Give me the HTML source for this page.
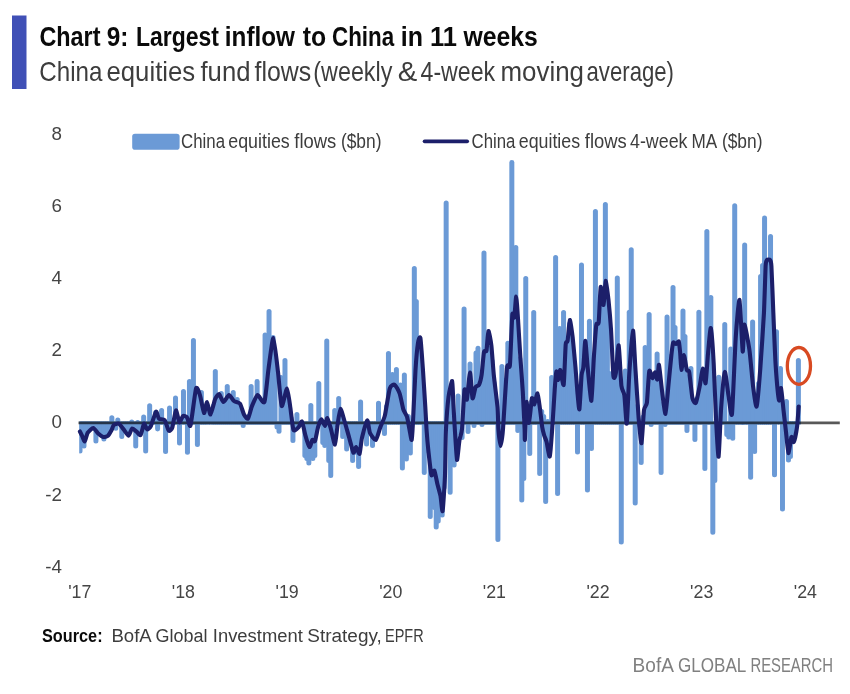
<!DOCTYPE html>
<html><head><meta charset="utf-8"><title>Chart 9</title>
<style>
html,body{margin:0;padding:0;background:#fff;}
body{width:850px;height:694px;overflow:hidden;font-family:"Liberation Sans",sans-serif;}
svg{display:block;will-change:transform;}
text{font-family:"Liberation Sans",sans-serif;}
</style></head><body>
<svg width="850" height="694" viewBox="0 0 850 694">
<rect width="850" height="694" fill="#ffffff"/>
<rect x="12" y="15.5" width="14.5" height="73.5" fill="#4050b6"/>
<text x="39.4" y="45.7" font-size="27.2" font-weight="bold" fill="#0a0a0a" textLength="61.1" lengthAdjust="spacingAndGlyphs">Chart</text>
<text x="106.7" y="45.7" font-size="27.2" font-weight="bold" fill="#0a0a0a" textLength="21.7" lengthAdjust="spacingAndGlyphs">9:</text>
<text x="136.0" y="45.7" font-size="27.2" font-weight="bold" fill="#0a0a0a" textLength="83.0" lengthAdjust="spacingAndGlyphs">Largest</text>
<text x="224.8" y="45.7" font-size="27.2" font-weight="bold" fill="#0a0a0a" textLength="70.2" lengthAdjust="spacingAndGlyphs">inflow</text>
<text x="302.8" y="45.7" font-size="27.2" font-weight="bold" fill="#0a0a0a" textLength="23.4" lengthAdjust="spacingAndGlyphs">to</text>
<text x="332.0" y="45.7" font-size="27.2" font-weight="bold" fill="#0a0a0a" textLength="62.2" lengthAdjust="spacingAndGlyphs">China</text>
<text x="400.8" y="45.7" font-size="27.2" font-weight="bold" fill="#0a0a0a" textLength="22.2" lengthAdjust="spacingAndGlyphs">in</text>
<text x="430.0" y="45.7" font-size="27.2" font-weight="bold" fill="#0a0a0a" textLength="27.0" lengthAdjust="spacingAndGlyphs">11</text>
<text x="463.6" y="45.7" font-size="27.2" font-weight="bold" fill="#0a0a0a" textLength="74.2" lengthAdjust="spacingAndGlyphs">weeks</text>
<text x="39.3" y="80.7" font-size="28.3" fill="#3d3d3d" textLength="63.1" lengthAdjust="spacingAndGlyphs">China</text>
<text x="106.5" y="80.7" font-size="28.3" fill="#3d3d3d" textLength="88.7" lengthAdjust="spacingAndGlyphs">equities</text>
<text x="200.5" y="80.7" font-size="28.3" fill="#3d3d3d" textLength="49.9" lengthAdjust="spacingAndGlyphs">fund</text>
<text x="254.5" y="80.7" font-size="28.3" fill="#3d3d3d" textLength="56.7" lengthAdjust="spacingAndGlyphs">flows</text>
<text x="313.3" y="80.7" font-size="28.3" fill="#3d3d3d" textLength="79.1" lengthAdjust="spacingAndGlyphs">(weekly</text>
<text x="397.7" y="80.7" font-size="28.3" fill="#3d3d3d" textLength="19.5" lengthAdjust="spacingAndGlyphs">&amp;</text>
<text x="420.5" y="80.7" font-size="28.3" fill="#3d3d3d" textLength="74.7" lengthAdjust="spacingAndGlyphs">4-week</text>
<text x="500.5" y="80.7" font-size="28.3" fill="#3d3d3d" textLength="83.5" lengthAdjust="spacingAndGlyphs">moving</text>
<text x="586.5" y="80.7" font-size="28.3" fill="#3d3d3d" textLength="87.5" lengthAdjust="spacingAndGlyphs">average)</text>
<g font-size="18.8" fill="#454545">
<text x="62.0" y="139.5" text-anchor="end">8</text>
<text x="62.0" y="211.8" text-anchor="end">6</text>
<text x="62.0" y="283.9" text-anchor="end">4</text>
<text x="62.0" y="356.1" text-anchor="end">2</text>
<text x="62.0" y="428.3" text-anchor="end">0</text>
<text x="62.0" y="500.5" text-anchor="end">-2</text>
<text x="62.0" y="572.6" text-anchor="end">-4</text>
<text x="68.2" y="598.3" textLength="23.2" lengthAdjust="spacingAndGlyphs">'17</text>
<text x="171.8" y="598.3" textLength="23.2" lengthAdjust="spacingAndGlyphs">'18</text>
<text x="275.5" y="598.3" textLength="23.2" lengthAdjust="spacingAndGlyphs">'19</text>
<text x="379.2" y="598.3" textLength="23.2" lengthAdjust="spacingAndGlyphs">'20</text>
<text x="482.8" y="598.3" textLength="23.2" lengthAdjust="spacingAndGlyphs">'21</text>
<text x="586.4" y="598.3" textLength="23.2" lengthAdjust="spacingAndGlyphs">'22</text>
<text x="690.1" y="598.3" textLength="23.2" lengthAdjust="spacingAndGlyphs">'23</text>
<text x="793.8" y="598.3" textLength="23.2" lengthAdjust="spacingAndGlyphs">'24</text>
</g>
<rect x="132.2" y="133.7" width="47.4" height="16" rx="2.8" fill="#6b9ad6"/>
<text x="181.0" y="147.5" font-size="19.5" fill="#3d3d3d" textLength="44.0" lengthAdjust="spacingAndGlyphs">China</text>
<text x="228.3" y="147.5" font-size="19.5" fill="#3d3d3d" textLength="61.4" lengthAdjust="spacingAndGlyphs">equities</text>
<text x="294.3" y="147.5" font-size="19.5" fill="#3d3d3d" textLength="42.0" lengthAdjust="spacingAndGlyphs">flows</text>
<text x="340.9" y="147.5" font-size="19.5" fill="#3d3d3d" textLength="40.6" lengthAdjust="spacingAndGlyphs">($bn)</text>
<line x1="424.6" y1="141.3" x2="467.2" y2="141.3" stroke="#1c1f6a" stroke-width="3.7" stroke-linecap="round"/>
<text x="471.5" y="147.5" font-size="19.5" fill="#3d3d3d" textLength="43.9" lengthAdjust="spacingAndGlyphs">China</text>
<text x="518.8" y="147.5" font-size="19.5" fill="#3d3d3d" textLength="61.3" lengthAdjust="spacingAndGlyphs">equities</text>
<text x="584.8" y="147.5" font-size="19.5" fill="#3d3d3d" textLength="41.9" lengthAdjust="spacingAndGlyphs">flows</text>
<text x="630.0" y="147.5" font-size="19.5" fill="#3d3d3d" textLength="57.5" lengthAdjust="spacingAndGlyphs">4-week</text>
<text x="691.6" y="147.5" font-size="19.5" fill="#3d3d3d" textLength="25.7" lengthAdjust="spacingAndGlyphs">MA</text>
<text x="721.9" y="147.5" font-size="19.5" fill="#3d3d3d" textLength="40.6" lengthAdjust="spacingAndGlyphs">($bn)</text>
<clipPath id="pc"><rect x="79.2" y="120" width="770" height="460"/></clipPath>
<g fill="#6b9ad6" clip-path="url(#pc)">
<path d="M77.50,421.4V450.9a2.5,2.5 0 0 0 5.0,0V421.4z"/>
<path d="M79.49,421.4V434.2a2.5,2.5 0 0 0 5.0,0V421.4z"/>
<path d="M81.48,421.4V445.9a2.5,2.5 0 0 0 5.0,0V421.4z"/>
<path d="M83.47,421.4V433.8a2.5,2.5 0 0 0 5.0,0V421.4z"/>
<path d="M85.46,421.4V429.7a2.5,2.5 0 0 0 5.0,0V421.4z"/>
<path d="M87.45,421.4V427.9a2.5,2.5 0 0 0 5.0,0V421.4z"/>
<path d="M89.44,421.4V426.2a2.5,2.5 0 0 0 5.0,0V421.4z"/>
<path d="M91.43,421.4V426.8a2.5,2.5 0 0 0 5.0,0V421.4z"/>
<path d="M93.42,421.4V441.0a2.5,2.5 0 0 0 5.0,0V421.4z"/>
<path d="M95.41,421.4V431.2a2.5,2.5 0 0 0 5.0,0V421.4z"/>
<path d="M97.40,421.4V432.6a2.5,2.5 0 0 0 5.0,0V421.4z"/>
<path d="M99.39,421.4V433.9a2.5,2.5 0 0 0 5.0,0V421.4z"/>
<path d="M101.38,421.4V438.9a2.5,2.5 0 0 0 5.0,0V421.4z"/>
<path d="M103.37,421.4V433.6a2.5,2.5 0 0 0 5.0,0V421.4z"/>
<path d="M105.36,421.4V432.6a2.5,2.5 0 0 0 5.0,0V421.4z"/>
<path d="M107.35,421.4V429.5a2.5,2.5 0 0 0 5.0,0V421.4z"/>
<path d="M109.34,424.5V417.7a2.5,2.5 0 0 1 5.0,0V424.5z"/>
<path d="M111.33,421.4V422.4a2.5,2.5 0 0 0 5.0,0V421.4z"/>
<path d="M113.32,421.4V428.3a2.5,2.5 0 0 0 5.0,0V421.4z"/>
<path d="M115.31,424.5V419.9a2.5,2.5 0 0 1 5.0,0V424.5z"/>
<path d="M117.30,421.4V423.1a2.5,2.5 0 0 0 5.0,0V421.4z"/>
<path d="M119.29,421.4V436.5a2.5,2.5 0 0 0 5.0,0V421.4z"/>
<path d="M121.28,421.4V427.8a2.5,2.5 0 0 0 5.0,0V421.4z"/>
<path d="M123.27,421.4V430.3a2.5,2.5 0 0 0 5.0,0V421.4z"/>
<path d="M125.26,421.4V432.8a2.5,2.5 0 0 0 5.0,0V421.4z"/>
<path d="M127.25,421.4V429.8a2.5,2.5 0 0 0 5.0,0V421.4z"/>
<path d="M129.24,424.5V422.0a2.5,2.5 0 0 1 5.0,0V424.5z"/>
<path d="M131.23,421.4V427.6a2.5,2.5 0 0 0 5.0,0V421.4z"/>
<path d="M133.22,421.4V445.9a2.5,2.5 0 0 0 5.0,0V421.4z"/>
<path d="M135.21,424.5V422.5a2.5,2.5 0 0 1 5.0,0V424.5z"/>
<path d="M137.20,421.4V432.2a2.5,2.5 0 0 0 5.0,0V421.4z"/>
<path d="M139.19,421.4V427.2a2.5,2.5 0 0 0 5.0,0V421.4z"/>
<path d="M141.18,424.5V417.0a2.5,2.5 0 0 1 5.0,0V424.5z"/>
<path d="M143.17,421.4V450.9a2.5,2.5 0 0 0 5.0,0V421.4z"/>
<path d="M145.16,421.4V425.9a2.5,2.5 0 0 0 5.0,0V421.4z"/>
<path d="M147.15,424.5V405.7a2.5,2.5 0 0 1 5.0,0V424.5z"/>
<path d="M151.13,424.5V419.5a2.5,2.5 0 0 1 5.0,0V424.5z"/>
<path d="M153.12,424.5V412.5a2.5,2.5 0 0 1 5.0,0V424.5z"/>
<path d="M155.11,421.4V429.0a2.5,2.5 0 0 0 5.0,0V421.4z"/>
<path d="M157.10,424.5V421.5a2.5,2.5 0 0 1 5.0,0V424.5z"/>
<path d="M159.09,424.5V410.5a2.5,2.5 0 0 1 5.0,0V424.5z"/>
<path d="M161.08,424.5V422.4a2.5,2.5 0 0 1 5.0,0V424.5z"/>
<path d="M163.07,421.4V451.5a2.5,2.5 0 0 0 5.0,0V421.4z"/>
<path d="M165.06,421.4V426.4a2.5,2.5 0 0 0 5.0,0V421.4z"/>
<path d="M167.05,424.5V407.9a2.5,2.5 0 0 1 5.0,0V424.5z"/>
<path d="M169.04,421.4V425.1a2.5,2.5 0 0 0 5.0,0V421.4z"/>
<path d="M171.03,424.5V421.8a2.5,2.5 0 0 1 5.0,0V424.5z"/>
<path d="M173.02,424.5V398.0a2.5,2.5 0 0 1 5.0,0V424.5z"/>
<path d="M175.01,424.5V420.0a2.5,2.5 0 0 1 5.0,0V424.5z"/>
<path d="M177.00,421.4V443.1a2.5,2.5 0 0 0 5.0,0V421.4z"/>
<path d="M178.99,424.5V420.3a2.5,2.5 0 0 1 5.0,0V424.5z"/>
<path d="M180.98,424.5V391.5a2.5,2.5 0 0 1 5.0,0V424.5z"/>
<path d="M182.97,424.5V419.5a2.5,2.5 0 0 1 5.0,0V424.5z"/>
<path d="M184.96,421.4V452.3a2.5,2.5 0 0 0 5.0,0V421.4z"/>
<path d="M186.95,424.5V381.5a2.5,2.5 0 0 1 5.0,0V424.5z"/>
<path d="M188.94,424.5V418.3a2.5,2.5 0 0 1 5.0,0V424.5z"/>
<path d="M190.93,424.5V340.5a2.5,2.5 0 0 1 5.0,0V424.5z"/>
<path d="M192.92,424.5V391.5a2.5,2.5 0 0 1 5.0,0V424.5z"/>
<path d="M194.91,421.4V444.5a2.5,2.5 0 0 0 5.0,0V421.4z"/>
<path d="M196.90,424.5V397.7a2.5,2.5 0 0 1 5.0,0V424.5z"/>
<path d="M198.89,424.5V392.5a2.5,2.5 0 0 1 5.0,0V424.5z"/>
<path d="M200.88,424.5V415.0a2.5,2.5 0 0 1 5.0,0V424.5z"/>
<path d="M202.87,424.5V408.6a2.5,2.5 0 0 1 5.0,0V424.5z"/>
<path d="M204.86,424.5V407.6a2.5,2.5 0 0 1 5.0,0V424.5z"/>
<path d="M206.85,421.4V422.0a2.5,2.5 0 0 0 5.0,0V421.4z"/>
<path d="M208.84,424.5V412.5a2.5,2.5 0 0 1 5.0,0V424.5z"/>
<path d="M210.83,424.5V405.9a2.5,2.5 0 0 1 5.0,0V424.5z"/>
<path d="M212.82,424.5V371.5a2.5,2.5 0 0 1 5.0,0V424.5z"/>
<path d="M214.81,424.5V398.1a2.5,2.5 0 0 1 5.0,0V424.5z"/>
<path d="M216.80,424.5V398.0a2.5,2.5 0 0 1 5.0,0V424.5z"/>
<path d="M218.79,424.5V393.5a2.5,2.5 0 0 1 5.0,0V424.5z"/>
<path d="M220.78,424.5V404.0a2.5,2.5 0 0 1 5.0,0V424.5z"/>
<path d="M222.77,424.5V401.5a2.5,2.5 0 0 1 5.0,0V424.5z"/>
<path d="M224.76,424.5V386.5a2.5,2.5 0 0 1 5.0,0V424.5z"/>
<path d="M226.75,424.5V398.4a2.5,2.5 0 0 1 5.0,0V424.5z"/>
<path d="M228.74,424.5V400.8a2.5,2.5 0 0 1 5.0,0V424.5z"/>
<path d="M230.73,424.5V392.5a2.5,2.5 0 0 1 5.0,0V424.5z"/>
<path d="M232.72,424.5V404.2a2.5,2.5 0 0 1 5.0,0V424.5z"/>
<path d="M234.71,424.5V399.5a2.5,2.5 0 0 1 5.0,0V424.5z"/>
<path d="M236.70,424.5V406.0a2.5,2.5 0 0 1 5.0,0V424.5z"/>
<path d="M238.69,424.5V410.7a2.5,2.5 0 0 1 5.0,0V424.5z"/>
<path d="M240.68,421.4V425.5a2.5,2.5 0 0 0 5.0,0V421.4z"/>
<path d="M242.67,424.5V418.7a2.5,2.5 0 0 1 5.0,0V424.5z"/>
<path d="M244.66,424.5V420.8a2.5,2.5 0 0 1 5.0,0V424.5z"/>
<path d="M246.65,424.5V415.9a2.5,2.5 0 0 1 5.0,0V424.5z"/>
<path d="M248.64,424.5V386.5a2.5,2.5 0 0 1 5.0,0V424.5z"/>
<path d="M250.63,424.5V405.3a2.5,2.5 0 0 1 5.0,0V424.5z"/>
<path d="M252.62,424.5V401.4a2.5,2.5 0 0 1 5.0,0V424.5z"/>
<path d="M254.61,424.5V381.5a2.5,2.5 0 0 1 5.0,0V424.5z"/>
<path d="M256.60,424.5V399.6a2.5,2.5 0 0 1 5.0,0V424.5z"/>
<path d="M258.59,424.5V401.6a2.5,2.5 0 0 1 5.0,0V424.5z"/>
<path d="M260.58,424.5V403.7a2.5,2.5 0 0 1 5.0,0V424.5z"/>
<path d="M262.57,424.5V334.9a2.5,2.5 0 0 1 5.0,0V424.5z"/>
<path d="M264.56,424.5V379.1a2.5,2.5 0 0 1 5.0,0V424.5z"/>
<path d="M266.55,424.5V311.5a2.5,2.5 0 0 1 5.0,0V424.5z"/>
<path d="M268.54,424.5V352.3a2.5,2.5 0 0 1 5.0,0V424.5z"/>
<path d="M270.53,424.5V337.5a2.5,2.5 0 0 1 5.0,0V424.5z"/>
<path d="M272.52,424.5V356.2a2.5,2.5 0 0 1 5.0,0V424.5z"/>
<path d="M274.51,421.4V427.1a2.5,2.5 0 0 0 5.0,0V421.4z"/>
<path d="M276.50,421.4V431.2a2.5,2.5 0 0 0 5.0,0V421.4z"/>
<path d="M278.49,424.5V377.5a2.5,2.5 0 0 1 5.0,0V424.5z"/>
<path d="M280.48,424.5V402.6a2.5,2.5 0 0 1 5.0,0V424.5z"/>
<path d="M282.47,424.5V360.5a2.5,2.5 0 0 1 5.0,0V424.5z"/>
<path d="M284.46,424.5V393.6a2.5,2.5 0 0 1 5.0,0V424.5z"/>
<path d="M286.45,424.5V405.1a2.5,2.5 0 0 1 5.0,0V424.5z"/>
<path d="M288.44,424.5V417.9a2.5,2.5 0 0 1 5.0,0V424.5z"/>
<path d="M290.43,421.4V440.5a2.5,2.5 0 0 0 5.0,0V421.4z"/>
<path d="M292.42,421.4V426.5a2.5,2.5 0 0 0 5.0,0V421.4z"/>
<path d="M294.41,424.5V414.5a2.5,2.5 0 0 1 5.0,0V424.5z"/>
<path d="M296.40,421.4V423.3a2.5,2.5 0 0 0 5.0,0V421.4z"/>
<path d="M300.38,421.4V424.6a2.5,2.5 0 0 0 5.0,0V421.4z"/>
<path d="M302.37,421.4V455.5a2.5,2.5 0 0 0 5.0,0V421.4z"/>
<path d="M304.36,421.4V458.5a2.5,2.5 0 0 0 5.0,0V421.4z"/>
<path d="M306.35,421.4V462.9a2.5,2.5 0 0 0 5.0,0V421.4z"/>
<path d="M308.34,424.5V405.5a2.5,2.5 0 0 1 5.0,0V424.5z"/>
<path d="M310.33,421.4V458.5a2.5,2.5 0 0 0 5.0,0V421.4z"/>
<path d="M312.32,421.4V455.5a2.5,2.5 0 0 0 5.0,0V421.4z"/>
<path d="M314.31,421.4V428.0a2.5,2.5 0 0 0 5.0,0V421.4z"/>
<path d="M316.30,424.5V383.5a2.5,2.5 0 0 1 5.0,0V424.5z"/>
<path d="M318.29,424.5V422.2a2.5,2.5 0 0 1 5.0,0V424.5z"/>
<path d="M320.28,421.4V442.5a2.5,2.5 0 0 0 5.0,0V421.4z"/>
<path d="M322.27,421.4V445.5a2.5,2.5 0 0 0 5.0,0V421.4z"/>
<path d="M324.26,424.5V341.0a2.5,2.5 0 0 1 5.0,0V424.5z"/>
<path d="M326.25,421.4V460.5a2.5,2.5 0 0 0 5.0,0V421.4z"/>
<path d="M328.24,421.4V475.5a2.5,2.5 0 0 0 5.0,0V421.4z"/>
<path d="M330.23,421.4V435.3a2.5,2.5 0 0 0 5.0,0V421.4z"/>
<path d="M332.22,424.5V410.5a2.5,2.5 0 0 1 5.0,0V424.5z"/>
<path d="M334.21,421.4V425.1a2.5,2.5 0 0 0 5.0,0V421.4z"/>
<path d="M336.20,424.5V398.5a2.5,2.5 0 0 1 5.0,0V424.5z"/>
<path d="M338.19,424.5V413.4a2.5,2.5 0 0 1 5.0,0V424.5z"/>
<path d="M340.18,421.4V436.5a2.5,2.5 0 0 0 5.0,0V421.4z"/>
<path d="M342.17,421.4V421.4a2.5,2.1 0 0 0 5.0,0V421.4z"/>
<path d="M344.16,421.4V449.0a2.5,2.5 0 0 0 5.0,0V421.4z"/>
<path d="M346.15,421.4V435.0a2.5,2.5 0 0 0 5.0,0V421.4z"/>
<path d="M348.14,421.4V442.1a2.5,2.5 0 0 0 5.0,0V421.4z"/>
<path d="M350.13,421.4V460.5a2.5,2.5 0 0 0 5.0,0V421.4z"/>
<path d="M352.12,421.4V446.4a2.5,2.5 0 0 0 5.0,0V421.4z"/>
<path d="M354.11,421.4V452.5a2.5,2.5 0 0 0 5.0,0V421.4z"/>
<path d="M356.10,421.4V466.5a2.5,2.5 0 0 0 5.0,0V421.4z"/>
<path d="M358.09,424.5V402.1a2.5,2.5 0 0 1 5.0,0V424.5z"/>
<path d="M360.08,421.4V431.6a2.5,2.5 0 0 0 5.0,0V421.4z"/>
<path d="M362.07,421.4V425.0a2.5,2.5 0 0 0 5.0,0V421.4z"/>
<path d="M364.06,421.4V444.1a2.5,2.5 0 0 0 5.0,0V421.4z"/>
<path d="M366.05,421.4V426.2a2.5,2.5 0 0 0 5.0,0V421.4z"/>
<path d="M368.04,421.4V431.8a2.5,2.5 0 0 0 5.0,0V421.4z"/>
<path d="M370.03,421.4V445.5a2.5,2.5 0 0 0 5.0,0V421.4z"/>
<path d="M372.02,421.4V436.6a2.5,2.5 0 0 0 5.0,0V421.4z"/>
<path d="M374.01,421.4V434.1a2.5,2.5 0 0 0 5.0,0V421.4z"/>
<path d="M376.00,424.5V403.3a2.5,2.5 0 0 1 5.0,0V424.5z"/>
<path d="M377.99,421.4V423.0a2.5,2.5 0 0 0 5.0,0V421.4z"/>
<path d="M379.98,424.5V422.8a2.5,2.5 0 0 1 5.0,0V424.5z"/>
<path d="M381.97,421.4V433.5a2.5,2.5 0 0 0 5.0,0V421.4z"/>
<path d="M383.96,424.5V406.6a2.5,2.5 0 0 1 5.0,0V424.5z"/>
<path d="M385.95,424.5V353.5a2.5,2.5 0 0 1 5.0,0V424.5z"/>
<path d="M387.94,424.5V390.1a2.5,2.5 0 0 1 5.0,0V424.5z"/>
<path d="M389.93,424.5V374.5a2.5,2.5 0 0 1 5.0,0V424.5z"/>
<path d="M391.92,424.5V387.7a2.5,2.5 0 0 1 5.0,0V424.5z"/>
<path d="M393.91,424.5V369.5a2.5,2.5 0 0 1 5.0,0V424.5z"/>
<path d="M395.90,424.5V394.7a2.5,2.5 0 0 1 5.0,0V424.5z"/>
<path d="M397.89,424.5V384.9a2.5,2.5 0 0 1 5.0,0V424.5z"/>
<path d="M399.88,421.4V468.0a2.5,2.5 0 0 0 5.0,0V421.4z"/>
<path d="M401.87,424.5V375.1a2.5,2.5 0 0 1 5.0,0V424.5z"/>
<path d="M403.86,421.4V459.0a2.5,2.5 0 0 0 5.0,0V421.4z"/>
<path d="M405.85,424.5V416.5a2.5,2.5 0 0 1 5.0,0V424.5z"/>
<path d="M407.84,421.4V453.0a2.5,2.5 0 0 0 5.0,0V421.4z"/>
<path d="M409.83,421.4V421.5a2.5,2.5 0 0 0 5.0,0V421.4z"/>
<path d="M411.82,424.5V268.5a2.5,2.5 0 0 1 5.0,0V424.5z"/>
<path d="M413.81,424.5V301.5a2.5,2.5 0 0 1 5.0,0V424.5z"/>
<path d="M415.80,424.5V340.5a2.5,2.5 0 0 1 5.0,0V424.5z"/>
<path d="M417.79,424.5V345.3a2.5,2.5 0 0 1 5.0,0V424.5z"/>
<path d="M419.78,424.5V370.0a2.5,2.5 0 0 1 5.0,0V424.5z"/>
<path d="M421.77,421.4V472.5a2.5,2.5 0 0 0 5.0,0V421.4z"/>
<path d="M423.76,421.4V429.5a2.5,2.5 0 0 0 5.0,0V421.4z"/>
<path d="M425.75,421.4V451.3a2.5,2.5 0 0 0 5.0,0V421.4z"/>
<path d="M427.74,421.4V516.5a2.5,2.5 0 0 0 5.0,0V421.4z"/>
<path d="M429.73,421.4V502.5a2.5,2.5 0 0 0 5.0,0V421.4z"/>
<path d="M431.72,421.4V507.5a2.5,2.5 0 0 0 5.0,0V421.4z"/>
<path d="M433.71,421.4V527.0a2.5,2.5 0 0 0 5.0,0V421.4z"/>
<path d="M435.70,421.4V521.0a2.5,2.5 0 0 0 5.0,0V421.4z"/>
<path d="M437.69,421.4V494.9a2.5,2.5 0 0 0 5.0,0V421.4z"/>
<path d="M439.68,421.4V514.9a2.5,2.5 0 0 0 5.0,0V421.4z"/>
<path d="M441.67,421.4V487.5a2.5,2.5 0 0 0 5.0,0V421.4z"/>
<path d="M443.66,424.5V203.0a2.5,2.5 0 0 1 5.0,0V424.5z"/>
<path d="M445.65,424.5V395.9a2.5,2.5 0 0 1 5.0,0V424.5z"/>
<path d="M447.64,421.4V492.3a2.5,2.5 0 0 0 5.0,0V421.4z"/>
<path d="M449.63,424.5V395.9a2.5,2.5 0 0 1 5.0,0V424.5z"/>
<path d="M451.62,421.4V465.0a2.5,2.5 0 0 0 5.0,0V421.4z"/>
<path d="M453.61,421.4V452.0a2.5,2.5 0 0 0 5.0,0V421.4z"/>
<path d="M455.60,424.5V395.9a2.5,2.5 0 0 1 5.0,0V424.5z"/>
<path d="M457.59,421.4V432.7a2.5,2.5 0 0 0 5.0,0V421.4z"/>
<path d="M459.58,421.4V437.5a2.5,2.5 0 0 0 5.0,0V421.4z"/>
<path d="M461.57,424.5V309.0a2.5,2.5 0 0 1 5.0,0V424.5z"/>
<path d="M463.56,424.5V400.6a2.5,2.5 0 0 1 5.0,0V424.5z"/>
<path d="M465.55,421.4V431.5a2.5,2.5 0 0 0 5.0,0V421.4z"/>
<path d="M467.54,424.5V364.1a2.5,2.5 0 0 1 5.0,0V424.5z"/>
<path d="M469.53,424.5V400.7a2.5,2.5 0 0 1 5.0,0V424.5z"/>
<path d="M471.52,421.4V425.5a2.5,2.5 0 0 0 5.0,0V421.4z"/>
<path d="M473.51,424.5V353.1a2.5,2.5 0 0 1 5.0,0V424.5z"/>
<path d="M475.50,424.5V348.2a2.5,2.5 0 0 1 5.0,0V424.5z"/>
<path d="M477.49,424.5V381.7a2.5,2.5 0 0 1 5.0,0V424.5z"/>
<path d="M479.48,421.4V424.5a2.5,2.5 0 0 0 5.0,0V421.4z"/>
<path d="M481.47,424.5V252.9a2.5,2.5 0 0 1 5.0,0V424.5z"/>
<path d="M483.46,424.5V353.1a2.5,2.5 0 0 1 5.0,0V424.5z"/>
<path d="M485.45,424.5V347.5a2.5,2.5 0 0 1 5.0,0V424.5z"/>
<path d="M487.44,424.5V354.5a2.5,2.5 0 0 1 5.0,0V424.5z"/>
<path d="M489.43,424.5V360.8a2.5,2.5 0 0 1 5.0,0V424.5z"/>
<path d="M491.42,424.5V382.8a2.5,2.5 0 0 1 5.0,0V424.5z"/>
<path d="M493.41,424.5V400.0a2.5,2.5 0 0 1 5.0,0V424.5z"/>
<path d="M495.40,421.4V539.5a2.5,2.5 0 0 0 5.0,0V421.4z"/>
<path d="M497.39,421.4V442.6a2.5,2.5 0 0 0 5.0,0V421.4z"/>
<path d="M499.38,424.5V366.5a2.5,2.5 0 0 1 5.0,0V424.5z"/>
<path d="M501.37,424.5V410.5a2.5,2.5 0 0 1 5.0,0V424.5z"/>
<path d="M503.36,424.5V380.0a2.5,2.5 0 0 1 5.0,0V424.5z"/>
<path d="M505.35,424.5V343.3a2.5,2.5 0 0 1 5.0,0V424.5z"/>
<path d="M507.34,424.5V358.6a2.5,2.5 0 0 1 5.0,0V424.5z"/>
<path d="M509.33,424.5V162.5a2.5,2.5 0 0 1 5.0,0V424.5z"/>
<path d="M511.32,424.5V319.8a2.5,2.5 0 0 1 5.0,0V424.5z"/>
<path d="M513.31,424.5V247.5a2.5,2.5 0 0 1 5.0,0V424.5z"/>
<path d="M515.30,421.4V430.5a2.5,2.5 0 0 0 5.0,0V421.4z"/>
<path d="M517.29,424.5V358.7a2.5,2.5 0 0 1 5.0,0V424.5z"/>
<path d="M519.28,421.4V500.0a2.5,2.5 0 0 0 5.0,0V421.4z"/>
<path d="M521.27,421.4V478.5a2.5,2.5 0 0 0 5.0,0V421.4z"/>
<path d="M523.26,424.5V278.5a2.5,2.5 0 0 1 5.0,0V424.5z"/>
<path d="M525.25,424.5V419.2a2.5,2.5 0 0 1 5.0,0V424.5z"/>
<path d="M527.24,421.4V453.5a2.5,2.5 0 0 0 5.0,0V421.4z"/>
<path d="M529.23,424.5V401.6a2.5,2.5 0 0 1 5.0,0V424.5z"/>
<path d="M531.22,424.5V312.5a2.5,2.5 0 0 1 5.0,0V424.5z"/>
<path d="M533.21,424.5V400.3a2.5,2.5 0 0 1 5.0,0V424.5z"/>
<path d="M535.20,424.5V403.5a2.5,2.5 0 0 1 5.0,0V424.5z"/>
<path d="M537.19,421.4V473.5a2.5,2.5 0 0 0 5.0,0V421.4z"/>
<path d="M539.18,424.5V411.5a2.5,2.5 0 0 1 5.0,0V424.5z"/>
<path d="M541.17,424.5V416.5a2.5,2.5 0 0 1 5.0,0V424.5z"/>
<path d="M543.16,421.4V501.5a2.5,2.5 0 0 0 5.0,0V421.4z"/>
<path d="M545.15,424.5V421.5a2.5,2.5 0 0 1 5.0,0V424.5z"/>
<path d="M547.14,421.4V450.1a2.5,2.5 0 0 0 5.0,0V421.4z"/>
<path d="M549.13,424.5V377.5a2.5,2.5 0 0 1 5.0,0V424.5z"/>
<path d="M551.12,424.5V401.3a2.5,2.5 0 0 1 5.0,0V424.5z"/>
<path d="M553.11,424.5V257.5a2.5,2.5 0 0 1 5.0,0V424.5z"/>
<path d="M555.10,421.4V493.5a2.5,2.5 0 0 0 5.0,0V421.4z"/>
<path d="M557.09,424.5V328.5a2.5,2.5 0 0 1 5.0,0V424.5z"/>
<path d="M559.08,424.5V380.2a2.5,2.5 0 0 1 5.0,0V424.5z"/>
<path d="M561.07,424.5V312.5a2.5,2.5 0 0 1 5.0,0V424.5z"/>
<path d="M563.06,424.5V346.3a2.5,2.5 0 0 1 5.0,0V424.5z"/>
<path d="M565.05,424.5V339.0a2.5,2.5 0 0 1 5.0,0V424.5z"/>
<path d="M567.04,424.5V323.9a2.5,2.5 0 0 1 5.0,0V424.5z"/>
<path d="M569.03,424.5V335.7a2.5,2.5 0 0 1 5.0,0V424.5z"/>
<path d="M571.02,424.5V354.6a2.5,2.5 0 0 1 5.0,0V424.5z"/>
<path d="M573.01,424.5V376.7a2.5,2.5 0 0 1 5.0,0V424.5z"/>
<path d="M575.00,421.4V451.9a2.5,2.5 0 0 0 5.0,0V421.4z"/>
<path d="M576.99,424.5V402.6a2.5,2.5 0 0 1 5.0,0V424.5z"/>
<path d="M578.98,424.5V264.9a2.5,2.5 0 0 1 5.0,0V424.5z"/>
<path d="M580.97,424.5V361.2a2.5,2.5 0 0 1 5.0,0V424.5z"/>
<path d="M582.96,424.5V350.7a2.5,2.5 0 0 1 5.0,0V424.5z"/>
<path d="M584.95,421.4V490.0a2.5,2.5 0 0 0 5.0,0V421.4z"/>
<path d="M586.94,424.5V321.2a2.5,2.5 0 0 1 5.0,0V424.5z"/>
<path d="M588.93,421.4V448.5a2.5,2.5 0 0 0 5.0,0V421.4z"/>
<path d="M590.92,424.5V358.9a2.5,2.5 0 0 1 5.0,0V424.5z"/>
<path d="M592.91,424.5V211.5a2.5,2.5 0 0 1 5.0,0V424.5z"/>
<path d="M594.90,424.5V325.8a2.5,2.5 0 0 1 5.0,0V424.5z"/>
<path d="M596.89,424.5V303.8a2.5,2.5 0 0 1 5.0,0V424.5z"/>
<path d="M598.88,424.5V296.8a2.5,2.5 0 0 1 5.0,0V424.5z"/>
<path d="M600.87,424.5V304.3a2.5,2.5 0 0 1 5.0,0V424.5z"/>
<path d="M602.86,424.5V204.5a2.5,2.5 0 0 1 5.0,0V424.5z"/>
<path d="M604.85,424.5V298.2a2.5,2.5 0 0 1 5.0,0V424.5z"/>
<path d="M606.84,424.5V373.5a2.5,2.5 0 0 1 5.0,0V424.5z"/>
<path d="M608.83,424.5V374.5a2.5,2.5 0 0 1 5.0,0V424.5z"/>
<path d="M610.82,424.5V378.5a2.5,2.5 0 0 1 5.0,0V424.5z"/>
<path d="M612.81,424.5V375.8a2.5,2.5 0 0 1 5.0,0V424.5z"/>
<path d="M614.80,424.5V278.0a2.5,2.5 0 0 1 5.0,0V424.5z"/>
<path d="M616.79,424.5V364.1a2.5,2.5 0 0 1 5.0,0V424.5z"/>
<path d="M618.78,421.4V542.1a2.5,2.5 0 0 0 5.0,0V421.4z"/>
<path d="M620.77,424.5V395.9a2.5,2.5 0 0 1 5.0,0V424.5z"/>
<path d="M622.76,424.5V371.0a2.5,2.5 0 0 1 5.0,0V424.5z"/>
<path d="M624.75,424.5V407.0a2.5,2.5 0 0 1 5.0,0V424.5z"/>
<path d="M626.74,424.5V312.2a2.5,2.5 0 0 1 5.0,0V424.5z"/>
<path d="M628.73,424.5V249.8a2.5,2.5 0 0 1 5.0,0V424.5z"/>
<path d="M630.72,424.5V344.5a2.5,2.5 0 0 1 5.0,0V424.5z"/>
<path d="M632.71,421.4V503.0a2.5,2.5 0 0 0 5.0,0V421.4z"/>
<path d="M634.70,424.5V406.2a2.5,2.5 0 0 1 5.0,0V424.5z"/>
<path d="M636.69,421.4V424.7a2.5,2.5 0 0 0 5.0,0V421.4z"/>
<path d="M638.68,421.4V462.5a2.5,2.5 0 0 0 5.0,0V421.4z"/>
<path d="M640.67,424.5V416.9a2.5,2.5 0 0 1 5.0,0V424.5z"/>
<path d="M642.66,424.5V347.5a2.5,2.5 0 0 1 5.0,0V424.5z"/>
<path d="M644.65,424.5V395.4a2.5,2.5 0 0 1 5.0,0V424.5z"/>
<path d="M646.64,424.5V314.5a2.5,2.5 0 0 1 5.0,0V424.5z"/>
<path d="M648.63,421.4V424.5a2.5,2.5 0 0 0 5.0,0V421.4z"/>
<path d="M650.62,424.5V378.1a2.5,2.5 0 0 1 5.0,0V424.5z"/>
<path d="M652.61,424.5V376.6a2.5,2.5 0 0 1 5.0,0V424.5z"/>
<path d="M654.60,424.5V353.9a2.5,2.5 0 0 1 5.0,0V424.5z"/>
<path d="M656.59,424.5V372.4a2.5,2.5 0 0 1 5.0,0V424.5z"/>
<path d="M658.58,421.4V472.5a2.5,2.5 0 0 0 5.0,0V421.4z"/>
<path d="M660.57,424.5V403.8a2.5,2.5 0 0 1 5.0,0V424.5z"/>
<path d="M662.56,421.4V424.5a2.5,2.5 0 0 0 5.0,0V421.4z"/>
<path d="M664.55,424.5V317.1a2.5,2.5 0 0 1 5.0,0V424.5z"/>
<path d="M666.54,424.5V376.6a2.5,2.5 0 0 1 5.0,0V424.5z"/>
<path d="M668.53,424.5V356.2a2.5,2.5 0 0 1 5.0,0V424.5z"/>
<path d="M670.52,424.5V287.5a2.5,2.5 0 0 1 5.0,0V424.5z"/>
<path d="M672.51,424.5V327.5a2.5,2.5 0 0 1 5.0,0V424.5z"/>
<path d="M674.50,424.5V345.2a2.5,2.5 0 0 1 5.0,0V424.5z"/>
<path d="M676.49,424.5V349.6a2.5,2.5 0 0 1 5.0,0V424.5z"/>
<path d="M678.48,424.5V371.8a2.5,2.5 0 0 1 5.0,0V424.5z"/>
<path d="M680.47,424.5V311.0a2.5,2.5 0 0 1 5.0,0V424.5z"/>
<path d="M682.46,424.5V336.5a2.5,2.5 0 0 1 5.0,0V424.5z"/>
<path d="M684.45,421.4V430.5a2.5,2.5 0 0 0 5.0,0V421.4z"/>
<path d="M686.44,424.5V376.6a2.5,2.5 0 0 1 5.0,0V424.5z"/>
<path d="M688.43,424.5V368.5a2.5,2.5 0 0 1 5.0,0V424.5z"/>
<path d="M690.42,424.5V401.9a2.5,2.5 0 0 1 5.0,0V424.5z"/>
<path d="M692.41,421.4V439.5a2.5,2.5 0 0 0 5.0,0V421.4z"/>
<path d="M694.40,424.5V398.7a2.5,2.5 0 0 1 5.0,0V424.5z"/>
<path d="M696.39,424.5V312.2a2.5,2.5 0 0 1 5.0,0V424.5z"/>
<path d="M698.38,424.5V378.8a2.5,2.5 0 0 1 5.0,0V424.5z"/>
<path d="M700.37,424.5V374.4a2.5,2.5 0 0 1 5.0,0V424.5z"/>
<path d="M702.36,421.4V468.5a2.5,2.5 0 0 0 5.0,0V421.4z"/>
<path d="M704.35,424.5V231.5a2.5,2.5 0 0 1 5.0,0V424.5z"/>
<path d="M706.34,424.5V344.0a2.5,2.5 0 0 1 5.0,0V424.5z"/>
<path d="M708.33,424.5V297.5a2.5,2.5 0 0 1 5.0,0V424.5z"/>
<path d="M710.32,421.4V532.3a2.5,2.5 0 0 0 5.0,0V421.4z"/>
<path d="M712.31,421.4V480.5a2.5,2.5 0 0 0 5.0,0V421.4z"/>
<path d="M714.30,421.4V435.6a2.5,2.5 0 0 0 5.0,0V421.4z"/>
<path d="M716.29,424.5V377.2a2.5,2.5 0 0 1 5.0,0V424.5z"/>
<path d="M718.28,424.5V409.7a2.5,2.5 0 0 1 5.0,0V424.5z"/>
<path d="M720.27,424.5V389.8a2.5,2.5 0 0 1 5.0,0V424.5z"/>
<path d="M722.26,424.5V324.5a2.5,2.5 0 0 1 5.0,0V424.5z"/>
<path d="M724.25,421.4V434.5a2.5,2.5 0 0 0 5.0,0V421.4z"/>
<path d="M726.24,421.4V436.9a2.5,2.5 0 0 0 5.0,0V421.4z"/>
<path d="M728.23,424.5V349.0a2.5,2.5 0 0 1 5.0,0V424.5z"/>
<path d="M730.22,421.4V438.3a2.5,2.5 0 0 0 5.0,0V421.4z"/>
<path d="M732.21,424.5V205.8a2.5,2.5 0 0 1 5.0,0V424.5z"/>
<path d="M734.20,424.5V325.3a2.5,2.5 0 0 1 5.0,0V424.5z"/>
<path d="M736.19,424.5V305.6a2.5,2.5 0 0 1 5.0,0V424.5z"/>
<path d="M738.18,424.5V329.5a2.5,2.5 0 0 1 5.0,0V424.5z"/>
<path d="M740.17,421.4V422.5a2.5,2.5 0 0 0 5.0,0V421.4z"/>
<path d="M742.16,424.5V244.9a2.5,2.5 0 0 1 5.0,0V424.5z"/>
<path d="M744.15,424.5V340.8a2.5,2.5 0 0 1 5.0,0V424.5z"/>
<path d="M746.14,424.5V350.7a2.5,2.5 0 0 1 5.0,0V424.5z"/>
<path d="M748.13,421.4V477.3a2.5,2.5 0 0 0 5.0,0V421.4z"/>
<path d="M750.12,424.5V322.0a2.5,2.5 0 0 1 5.0,0V424.5z"/>
<path d="M752.11,421.4V451.5a2.5,2.5 0 0 0 5.0,0V421.4z"/>
<path d="M754.10,424.5V403.9a2.5,2.5 0 0 1 5.0,0V424.5z"/>
<path d="M756.09,424.5V383.4a2.5,2.5 0 0 1 5.0,0V424.5z"/>
<path d="M758.08,424.5V276.5a2.5,2.5 0 0 1 5.0,0V424.5z"/>
<path d="M760.07,424.5V265.5a2.5,2.5 0 0 1 5.0,0V424.5z"/>
<path d="M762.06,424.5V218.0a2.5,2.5 0 0 1 5.0,0V424.5z"/>
<path d="M764.05,424.5V262.5a2.5,2.5 0 0 1 5.0,0V424.5z"/>
<path d="M766.04,424.5V262.5a2.5,2.5 0 0 1 5.0,0V424.5z"/>
<path d="M768.03,424.5V236.5a2.5,2.5 0 0 1 5.0,0V424.5z"/>
<path d="M770.02,424.5V307.7a2.5,2.5 0 0 1 5.0,0V424.5z"/>
<path d="M772.01,421.4V474.8a2.5,2.5 0 0 0 5.0,0V421.4z"/>
<path d="M774.00,424.5V331.8a2.5,2.5 0 0 1 5.0,0V424.5z"/>
<path d="M777.98,424.5V368.5a2.5,2.5 0 0 1 5.0,0V424.5z"/>
<path d="M779.97,421.4V509.1a2.5,2.5 0 0 0 5.0,0V421.4z"/>
<path d="M781.96,421.4V421.4a2.5,1.4 0 0 0 5.0,0V421.4z"/>
<path d="M783.95,424.5V401.5a2.5,2.5 0 0 1 5.0,0V424.5z"/>
<path d="M785.94,421.4V460.1a2.5,2.5 0 0 0 5.0,0V421.4z"/>
<path d="M787.93,421.4V456.5a2.5,2.5 0 0 0 5.0,0V421.4z"/>
<path d="M789.92,421.4V437.7a2.5,2.5 0 0 0 5.0,0V421.4z"/>
<path d="M791.91,421.4V434.4a2.5,2.5 0 0 0 5.0,0V421.4z"/>
<path d="M793.90,421.4V425.3a2.5,2.5 0 0 0 5.0,0V421.4z"/>
<path d="M795.89,424.5V360.5a2.5,2.5 0 0 1 5.0,0V424.5z"/>
</g>
<line x1="78.5" y1="422.9" x2="839.8" y2="422.9" stroke="#585858" stroke-width="2.8" style="mix-blend-mode:multiply"/>
<path d="M79.9,431.5C80.1,431.9 81.5,434.7 82.0,435.7C82.5,436.7 84.2,441.7 84.8,441.4C85.4,441.1 86.8,434.2 87.6,432.9C88.4,431.6 92.2,427.9 93.3,428.0C94.4,428.1 97.2,432.7 98.2,433.6C99.2,434.5 102.2,436.8 103.2,437.0C104.2,437.2 107.2,436.4 108.0,435.7C108.8,435.0 111.0,431.1 111.6,430.0C112.2,428.9 113.1,425.6 113.8,425.0C114.5,424.4 117.7,423.3 118.7,423.7C119.7,424.1 122.6,428.2 123.6,429.4C124.6,430.6 127.8,435.8 128.6,435.7C129.4,435.6 131.2,429.0 132.0,428.6C132.8,428.2 135.5,430.9 136.4,431.5C137.3,432.1 139.8,435.8 140.6,435.0C141.4,434.2 143.4,424.3 144.0,423.7C144.6,423.1 146.3,429.2 147.0,429.4C147.7,429.6 150.1,427.6 151.0,425.8C151.9,424.0 155.2,412.4 156.0,411.7C156.8,411.0 158.1,418.0 159.0,418.8C159.9,419.6 163.6,418.8 164.6,420.0C165.6,421.2 168.0,430.1 168.8,430.8C169.6,431.5 171.7,429.2 172.4,427.2C173.1,425.1 175.2,410.8 175.9,410.3C176.6,409.8 178.7,421.7 179.4,422.3C180.1,422.9 182.2,416.5 183.0,416.0C183.8,415.5 186.2,416.4 187.0,417.4C187.8,418.3 189.6,428.4 190.5,425.5C191.4,422.6 195.1,391.5 196.0,388.5C196.9,385.5 199.2,392.9 200.0,395.4C200.8,397.8 203.3,412.3 204.0,413.0C204.7,413.7 206.3,401.9 207.0,402.0C207.7,402.1 209.7,414.8 210.5,414.5C211.3,414.2 214.2,401.6 215.0,399.5C215.8,397.4 218.2,393.8 219.0,394.0C219.8,394.2 222.4,401.9 223.4,402.0C224.4,402.1 227.9,395.1 229.0,395.0C230.1,394.9 232.9,400.1 234.0,401.0C235.1,401.9 239.0,402.2 240.0,403.6C241.0,405.0 243.2,413.0 244.0,414.5C244.8,416.0 247.2,419.5 248.0,418.6C248.8,417.8 251.0,408.4 252.0,406.0C253.0,403.6 256.4,395.4 257.6,395.0C258.8,394.6 263.3,404.6 264.4,402.0C265.5,399.4 267.6,375.4 268.5,369.0C269.4,362.6 272.4,337.7 273.4,338.0C274.3,338.3 277.2,365.2 278.0,372.0C278.8,378.8 280.8,404.4 281.7,406.0C282.6,407.6 286.1,388.3 287.0,388.5C287.9,388.7 289.8,403.9 290.4,408.0C291.0,412.1 292.7,428.1 293.5,430.0C294.3,431.9 297.6,428.2 298.5,427.3C299.4,426.4 301.3,420.7 302.0,421.5C302.7,422.3 304.6,432.8 305.4,435.4C306.1,437.9 308.8,446.5 309.5,447.0C310.2,447.5 311.8,440.6 312.3,440.0C312.9,439.4 314.4,442.3 315.0,441.0C315.6,439.7 317.4,429.5 318.0,427.3C318.6,425.1 320.8,419.3 321.5,419.2C322.2,419.1 324.4,426.1 325.0,426.0C325.6,425.9 326.7,417.8 327.3,418.0C327.9,418.2 330.0,425.8 330.8,428.5C331.6,431.2 334.3,445.1 335.0,444.6C335.7,444.1 337.1,427.4 337.7,423.8C338.2,420.2 339.8,409.0 340.5,408.8C341.2,408.6 343.7,418.6 344.6,421.5C345.5,424.4 348.3,434.6 349.2,437.7C350.1,440.8 352.7,451.8 353.4,452.7C354.1,453.6 355.4,446.9 356.0,447.0C356.6,447.1 359.0,454.7 359.6,453.8C360.2,452.9 361.2,441.0 362.0,437.7C362.8,434.4 366.4,420.9 367.2,420.4C368.0,419.9 369.1,431.0 370.0,433.0C370.9,435.0 374.8,440.6 375.8,440.0C376.8,439.4 379.5,429.5 380.4,427.0C381.3,424.5 384.0,419.2 384.9,415.4C385.8,411.5 388.8,391.6 389.8,388.5C390.8,385.4 393.7,384.3 394.7,384.8C395.7,385.3 398.7,390.9 399.6,393.4C400.5,395.8 402.6,407.0 403.3,409.3C404.0,411.6 406.4,414.7 407.0,416.7C407.6,418.7 408.9,426.7 409.4,429.0C409.9,431.3 411.3,440.7 411.7,440.0C412.1,439.3 412.6,428.6 413.0,421.6C413.4,414.6 415.0,377.9 415.5,370.0C416.0,362.1 417.5,346.2 418.0,343.0C418.5,339.8 419.9,335.5 420.4,338.0C420.9,340.5 422.3,360.8 422.8,367.7C423.3,374.6 424.9,400.8 425.3,406.9C425.7,413.0 426.2,424.6 426.5,429.0C426.8,433.4 427.9,446.4 428.4,451.0C428.9,455.6 430.8,473.0 431.4,475.0C432.0,477.0 433.8,469.7 434.4,470.6C435.0,471.5 436.8,481.5 437.4,484.0C438.0,486.5 440.0,493.3 440.5,496.0C441.0,498.7 442.2,513.1 442.6,511.0C443.1,508.9 444.7,483.2 445.0,475.0C445.3,466.8 445.6,436.8 446.0,429.0C446.4,421.2 447.9,401.8 448.5,397.0C449.1,392.2 451.7,380.3 452.2,381.0C452.7,381.7 453.1,399.3 453.4,404.4C453.7,409.5 454.6,426.4 455.0,432.0C455.4,437.6 456.6,459.2 457.0,460.0C457.4,460.8 459.0,443.1 459.5,440.0C460.0,436.9 461.5,434.0 462.0,429.0C462.5,424.0 464.0,392.6 464.5,389.7C465.0,386.8 466.3,401.2 466.9,399.5C467.4,397.8 469.4,372.7 470.0,372.6C470.6,372.5 471.9,396.8 472.5,398.3C473.1,399.8 474.9,388.7 475.5,387.3C476.1,385.9 478.4,386.0 479.0,384.8C479.6,383.6 481.1,378.3 481.6,375.0C482.1,371.7 483.5,354.2 484.0,351.8C484.5,349.4 486.1,352.7 486.5,350.6C486.9,348.5 487.9,331.5 488.4,331.0C488.9,330.5 490.9,341.3 491.4,345.7C491.9,350.1 493.2,368.9 493.8,375.0C494.4,381.1 497.0,401.5 497.5,406.9C498.0,412.3 498.1,425.1 498.4,429.0C498.7,432.9 500.0,446.0 500.5,446.0C501.0,446.0 502.4,436.8 503.0,429.0C503.6,421.2 506.3,374.1 507.0,367.7C507.7,361.3 509.4,370.6 509.9,365.3C510.4,360.0 511.9,319.8 512.3,315.0C512.7,310.2 513.9,319.3 514.3,317.5C514.7,315.7 515.8,296.6 516.2,296.7C516.6,296.8 517.6,312.7 518.0,318.8C518.4,324.9 519.9,350.7 520.4,358.0C520.9,365.3 522.4,384.9 522.8,392.0C523.2,399.1 524.4,424.2 524.6,429.0C524.8,433.8 524.7,442.2 524.9,439.5C525.1,436.8 526.1,403.6 526.5,402.0C526.9,400.4 528.5,423.4 529.0,423.0C529.5,422.6 531.4,400.2 531.9,398.3C532.4,396.4 533.7,404.9 534.3,404.4C534.9,403.9 536.9,392.9 537.5,393.4C538.1,393.9 539.5,405.6 540.0,409.0C540.5,412.4 541.8,424.4 542.2,427.0C542.6,429.6 543.8,434.1 544.2,435.5C544.6,436.9 545.9,439.4 546.5,441.5C547.1,443.6 549.2,457.8 549.8,456.5C550.4,455.2 551.7,435.7 552.2,429.0C552.7,422.3 554.3,395.5 554.7,389.7C555.1,383.9 556.0,372.4 556.4,371.4C556.8,370.4 557.9,380.1 558.3,380.0C558.7,379.9 559.8,369.5 560.3,370.0C560.8,370.5 563.2,387.4 563.7,384.8C564.2,382.2 565.3,348.9 565.7,344.5C566.1,340.1 567.2,343.2 567.6,340.8C568.0,338.4 569.3,320.5 569.8,320.0C570.3,319.5 571.9,331.2 572.5,336.0C573.1,340.8 575.0,362.1 575.5,367.7C576.0,373.3 577.0,387.8 577.4,392.0C577.8,396.2 579.0,411.0 579.4,409.3C579.8,407.6 581.2,379.2 581.6,375.0C582.0,370.8 582.9,371.1 583.3,367.7C583.7,364.3 584.9,340.8 585.3,340.8C585.7,340.8 587.1,361.7 587.7,367.7C588.3,373.7 590.8,401.8 591.4,400.8C592.0,399.8 593.3,365.6 593.8,358.0C594.3,350.4 595.8,328.6 596.3,325.0C596.8,321.4 598.3,326.2 598.7,322.4C599.1,318.6 600.2,288.7 600.7,287.0C601.2,285.3 603.1,305.6 603.6,305.0C604.1,304.4 605.1,281.5 605.6,281.0C606.1,280.5 608.0,295.2 608.5,300.0C609.0,304.8 610.5,321.8 611.0,329.4C611.5,337.0 612.9,371.6 613.4,376.0C613.9,380.4 615.3,376.5 615.8,373.4C616.3,370.3 618.1,344.1 618.7,345.3C619.3,346.5 620.8,380.7 621.4,385.7C622.0,390.7 623.9,391.7 624.4,395.5C624.9,399.3 626.3,425.8 626.8,423.6C627.3,421.4 628.7,382.7 629.3,373.4C629.9,364.1 632.4,331.1 633.0,330.6C633.6,330.1 634.8,359.8 635.4,368.5C636.0,377.2 638.0,410.0 638.6,417.5C639.2,425.0 641.0,443.9 641.5,443.2C642.0,442.4 643.5,414.0 644.0,410.0C644.5,406.0 646.4,406.7 646.9,402.8C647.4,398.9 648.7,373.4 649.3,371.0C649.9,368.6 651.9,378.2 652.5,378.3C653.1,378.4 654.5,372.1 655.0,372.2C655.5,372.3 657.0,380.3 657.4,379.6C657.8,378.9 658.5,363.6 659.0,364.9C659.5,366.2 661.6,388.1 662.3,393.0C662.9,397.9 664.9,414.5 665.5,413.8C666.1,413.1 667.8,391.8 668.4,385.7C669.0,379.6 671.1,357.3 671.6,353.0C672.1,348.7 672.8,343.4 673.2,342.5C673.6,341.6 675.4,344.1 676.0,344.0C676.6,343.9 678.4,340.7 678.8,341.5C679.2,342.3 679.8,349.2 680.1,352.0C680.4,354.8 681.0,369.5 681.4,369.8C681.8,370.1 683.4,355.0 683.9,355.0C684.4,355.0 686.3,368.1 686.8,369.8C687.3,371.5 688.6,369.4 689.2,372.2C689.8,375.0 691.7,394.9 692.4,398.0C693.1,401.1 695.2,404.0 695.9,402.8C696.6,401.6 699.1,389.1 699.8,385.7C700.5,382.3 702.1,368.8 702.7,368.5C703.3,368.2 705.1,384.7 705.6,383.2C706.1,381.7 707.5,359.4 708.0,353.9C708.5,348.4 710.2,327.0 710.8,328.0C711.4,329.0 713.2,354.2 713.7,363.6C714.2,373.0 715.7,413.1 716.2,422.4C716.7,431.7 718.1,457.9 718.6,456.7C719.1,455.5 720.4,418.5 721.0,410.0C721.6,401.5 724.0,373.4 724.8,372.0C725.5,370.6 727.8,391.3 728.5,395.5C729.2,399.7 731.3,419.7 732.0,413.8C732.7,407.9 735.0,348.1 735.8,336.7C736.5,325.3 738.8,298.5 739.5,300.0C740.2,301.5 742.2,348.9 742.7,351.4C743.2,353.8 743.7,324.7 744.4,324.5C745.1,324.3 748.4,342.9 749.3,349.0C750.2,355.1 752.3,379.9 753.0,385.7C753.7,391.4 755.9,408.2 756.6,406.5C757.3,404.8 759.6,377.9 760.3,368.5C761.0,359.1 763.5,322.2 764.0,312.0C764.5,301.8 765.3,271.2 765.6,266.0C765.9,260.8 766.6,260.6 767.0,260.0C767.4,259.4 769.6,259.4 770.0,260.0C770.4,260.6 771.1,260.8 771.4,266.0C771.7,271.2 772.9,302.0 773.3,312.0C773.7,322.0 775.1,357.2 775.7,366.0C776.3,374.8 778.5,398.2 779.0,400.4C779.5,402.6 780.5,387.0 781.0,388.0C781.5,389.0 783.0,405.6 783.5,410.0C784.0,414.4 785.5,427.7 786.0,432.0C786.5,436.3 787.9,452.5 788.4,453.0C788.9,453.5 790.9,438.1 791.4,437.0C791.9,435.9 793.2,443.0 793.8,442.0C794.4,441.0 796.5,430.9 797.0,427.3C797.5,423.8 798.5,408.6 798.7,406.5" fill="none" stroke="#1c1f6a" stroke-width="4.1" stroke-linejoin="round" stroke-linecap="round"/>
<ellipse cx="798.9" cy="365.9" rx="11.6" ry="18.4" fill="none" stroke="#d84a22" stroke-width="3.3"/>
<text x="42.0" y="641.5" font-size="18.8" font-weight="bold" fill="#0a0a0a" textLength="60.6" lengthAdjust="spacingAndGlyphs">Source:</text>
<text x="111.4" y="641.5" font-size="18.8" fill="#3d3d3d" textLength="40.3" lengthAdjust="spacingAndGlyphs">BofA</text>
<text x="155.4" y="641.5" font-size="18.8" fill="#3d3d3d" textLength="52.0" lengthAdjust="spacingAndGlyphs">Global</text>
<text x="212.8" y="641.5" font-size="18.8" fill="#3d3d3d" textLength="90.0" lengthAdjust="spacingAndGlyphs">Investment</text>
<text x="307.3" y="641.5" font-size="18.8" fill="#3d3d3d" textLength="74.5" lengthAdjust="spacingAndGlyphs">Strategy,</text>
<text x="385.0" y="641.5" font-size="18.8" fill="#3d3d3d" textLength="38.7" lengthAdjust="spacingAndGlyphs">EPFR</text>
<text x="632.6" y="671.6" font-size="21.0" fill="#808080" textLength="41.3" lengthAdjust="spacingAndGlyphs">BofA</text>
<text x="677.9" y="671.6" font-size="21.0" fill="#808080" textLength="68.4" lengthAdjust="spacingAndGlyphs">GLOBAL</text>
<text x="750.4" y="671.6" font-size="21.0" fill="#808080" textLength="82.6" lengthAdjust="spacingAndGlyphs">RESEARCH</text>
</svg>
</body></html>
